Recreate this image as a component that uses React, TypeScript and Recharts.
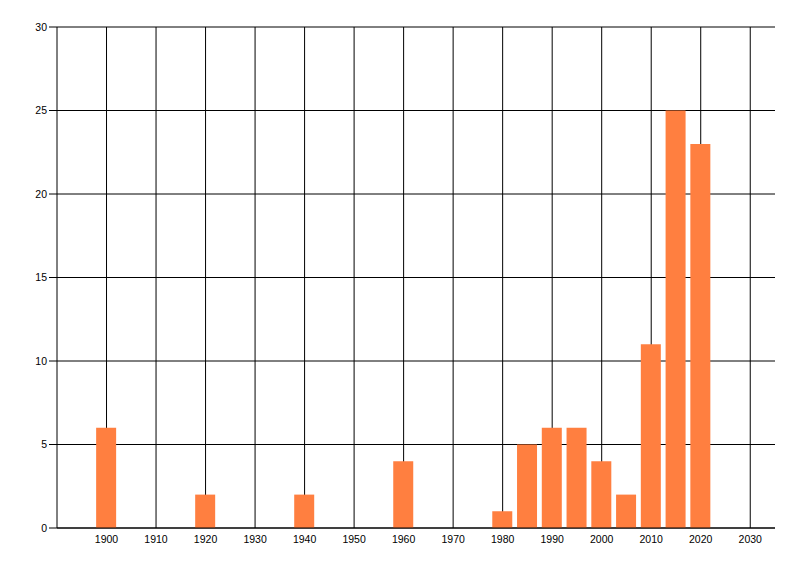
import React from "react";
import { BarChart, Bar, XAxis, YAxis, CartesianGrid } from "recharts";

// Year buckets and counts
const years = [1900, 1920, 1940, 1960, 1980, 1985, 1990, 1995, 2000, 2005, 2010, 2015, 2020];
const counts = [6, 2, 2, 4, 1, 5, 6, 6, 4, 2, 11, 25, 23];

const xTicks = [1900, 1910, 1920, 1930, 1940, 1950, 1960, 1970, 1980, 1990, 2000, 2010, 2020, 2030];
const yTicks = [0, 5, 10, 15, 20, 25, 30];

const data = years.map((year, i) => ({ year, count: counts[i] }));

const tickStyle = { fill: "#000", fontSize: 10.5, fontFamily: "'Liberation Sans', Arial, sans-serif" };

export default function App() {
  return (
    <div style={{ position: "absolute", left: 0, top: 0, width: 800, height: 576, background: "#fff" }}>
      <BarChart
        width={800}
        height={576}
        data={data}
        margin={{ top: 27, right: 25, bottom: 0, left: 0 }}
      >
        {/* syncWithTicks: only the tick lines, no border on the right edge */}
        <CartesianGrid stroke="#000" strokeWidth={1} syncWithTicks />
        <XAxis
          dataKey="year"
          type="number"
          domain={[1890, 2035]}
          ticks={xTicks}
          allowDataOverflow
          height={48}
          tick={tickStyle}
          tickLine={false}
          tickSize={6}
          tickMargin={2}
          axisLine={{ stroke: "#000" }}
        />
        <YAxis
          type="number"
          domain={[0, 30]}
          ticks={yTicks}
          width={57}
          tick={tickStyle}
          tickSize={8}
          tickMargin={2}
          tickLine={{ stroke: "#000" }}
          axisLine={{ stroke: "#000" }}
        />
        <Bar dataKey="count" fill="#FF7F40" barSize={20} isAnimationActive={false} />
      </BarChart>
    </div>
  );
}
